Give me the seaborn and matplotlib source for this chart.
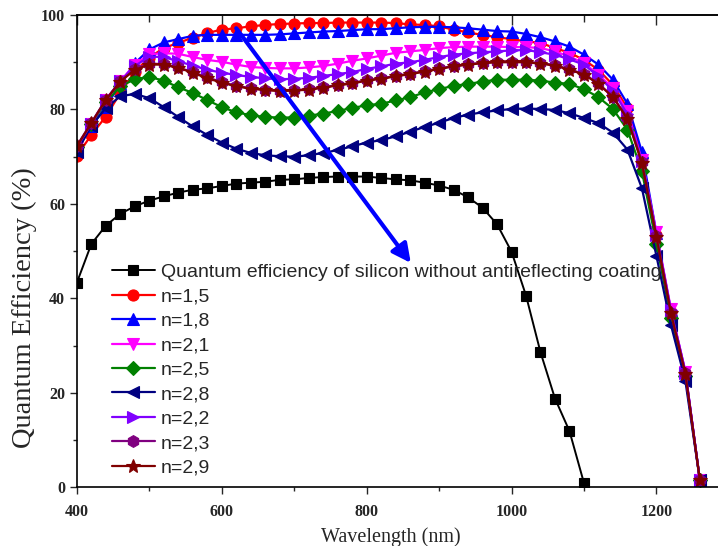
import numpy as np
import pandas as pd
import matplotlib
matplotlib.use("Agg")
import matplotlib.pyplot as plt
import seaborn as sns
from matplotlib.ticker import MultipleLocator

wl = list(range(400, 1261, 20))
wl_si = list(range(400, 1101, 20))

qe_si = [43.3, 51.5, 55.4, 57.9, 59.5, 60.7, 61.6, 62.4, 63.0, 63.3, 63.8, 64.3, 64.5, 64.7,
         65.1, 65.2, 65.5, 65.7, 65.8, 65.8, 65.8, 65.5, 65.2, 65.0, 64.5, 63.9, 63.0, 61.4,
         59.2, 55.7, 49.9, 40.6, 28.6, 18.8, 11.9, 0.9]

qe_15 = [70.2, 74.6, 78.5, 83.5, 88.0, 91.0, 93.0, 94.1, 95.2, 96.2, 96.9, 97.2, 97.6, 97.9,
         98.1, 98.2, 98.3, 98.3, 98.4, 98.4, 98.4, 98.4, 98.3, 98.0, 97.9, 97.6, 96.9, 96.3,
         95.8, 95.3, 94.9, 94.4, 94.1, 93.0, 92.0, 90.5, 88.4, 85.2, 80.3, 69.8, 53.5, 37.2,
         24.2, 1.5]
qe_18 = [71.5, 76.5, 80.5, 85.5, 89.8, 92.7, 94.2, 94.9, 95.6, 95.8, 95.8, 95.8, 95.8, 95.8,
         95.9, 96.1, 96.3, 96.5, 96.6, 96.8, 97.0, 97.0, 97.2, 97.4, 97.5, 97.5, 97.4, 97.2,
         96.9, 96.6, 96.5, 96.0, 95.3, 94.4, 93.3, 91.6, 89.5, 86.3, 81.2, 71.0, 53.8, 37.5,
         24.5, 1.5]
qe_21 = [72.0, 77.0, 82.0, 86.0, 89.5, 91.7, 91.9, 91.8, 91.1, 90.5, 90.1, 89.5, 89.0, 88.8,
         88.7, 88.7, 88.9, 89.2, 89.7, 90.3, 90.8, 91.4, 92.0, 92.3, 92.6, 93.0, 93.2, 93.3,
         93.3, 93.3, 93.2, 93.2, 93.0, 92.3, 91.2, 89.8, 87.4, 84.5, 79.6, 69.2, 54.0, 37.8,
         24.5, 1.5]
qe_25 = [72.0, 77.0, 81.5, 84.9, 86.4, 86.9, 86.1, 84.7, 83.5, 82.0, 80.5, 79.4, 78.8, 78.4,
         78.3, 78.3, 78.7, 79.1, 79.7, 80.3, 80.9, 81.2, 81.9, 82.6, 83.6, 84.3, 85.0, 85.4,
         85.9, 86.3, 86.3, 86.3, 86.1, 85.7, 85.4, 84.3, 82.6, 80.1, 75.7, 66.9, 51.6, 35.8,
         23.6, 1.5]
qe_28 = [71.0, 76.5, 80.3, 82.8, 83.3, 82.4, 80.5, 78.4, 76.4, 74.6, 73.0, 71.7, 70.8, 70.3,
         70.1, 70.0, 70.3, 70.8, 71.4, 72.2, 73.0, 73.5, 74.3, 75.3, 76.3, 77.2, 78.2, 78.9,
         79.4, 79.8, 80.1, 80.2, 80.1, 79.9, 79.2, 78.2, 77.1, 75.1, 71.5, 63.3, 49.0, 34.4,
         22.5, 1.5]
qe_22 = [72.0, 77.0, 82.0, 86.0, 89.2, 91.2, 91.1, 90.2, 89.3, 88.4, 87.8, 87.3, 86.9, 86.6,
         86.4, 86.5, 86.7, 87.1, 87.5, 87.9, 88.6, 89.1, 89.7, 90.0, 90.5, 91.1, 91.6, 91.9,
         92.1, 92.3, 92.5, 92.6, 92.1, 91.6, 90.6, 89.5, 87.0, 84.0, 79.0, 69.0, 53.5, 37.5,
         24.3, 1.5]
qe_23 = [72.3, 77.2, 82.1, 86.0, 88.5, 89.7, 89.6, 88.9, 87.9, 86.8, 85.8, 85.0, 84.5, 84.2,
         84.0, 84.1, 84.3, 84.7, 85.2, 85.6, 86.2, 86.6, 87.1, 87.6, 88.1, 88.7, 89.2, 89.6,
         89.9, 90.1, 90.1, 90.1, 89.8, 89.4, 88.5, 87.5, 85.5, 82.7, 78.2, 68.8, 53.2, 37.0,
         24.1, 1.5]
qe_29 = [72.2, 77.1, 82.0, 85.9, 88.4, 89.5, 89.5, 88.8, 87.8, 86.6, 85.7, 84.9, 84.4, 84.1,
         83.9, 84.0, 84.2, 84.6, 85.1, 85.5, 86.1, 86.5, 87.0, 87.5, 88.0, 88.6, 89.1, 89.5,
         89.8, 90.0, 90.0, 90.0, 89.7, 89.3, 88.4, 87.4, 85.4, 82.6, 78.0, 68.6, 53.0, 36.9,
         24.0, 1.5]

labels = ["Quantum efficiency of silicon without antireflecting coating",
          "n=1,5", "n=1,8", "n=2,1", "n=2,5", "n=2,8", "n=2,2", "n=2,3", "n=2,9"]
series = [qe_si, qe_15, qe_18, qe_21, qe_25, qe_28, qe_22, qe_23, qe_29]
colors = ["#000000", "#FF0000", "#0000FF", "#FF00FF", "#008000", "#000080",
          "#8000FF", "#800080", "#800000"]
markers = ["s", "o", "^", "v", "D", "<", ">", "h", "*"]
msizes = [6.5, 8, 8.5, 8.5, 7, 8.5, 8.5, 8.5, 10]

x_ticks = [400, 600, 800, 1000, 1200]
y_ticks = [0, 20, 40, 60, 80, 100]

sns.set_style("ticks")
plt.rcParams["font.family"] = ["Liberation Serif", "DejaVu Serif"]

fig = plt.figure(figsize=(7.18, 5.46), dpi=100)
ax = fig.add_axes([0.107, 0.1075, 0.893, 0.865])

for lab, vals, c, m, ms in zip(labels, series, colors, markers, msizes):
    xs = wl_si if len(vals) == len(wl_si) else wl
    df = pd.DataFrame({"wl": xs, "qe": vals})
    lw = 1.4 if c == "#000000" else 1.6
    sns.lineplot(data=df, x="wl", y="qe", ax=ax, color=c, marker=m, markersize=ms,
                 markeredgecolor=c, markeredgewidth=0.8, linewidth=lw, label=lab,
                 legend=False)

ax.set_xlim(400, 1285)
ax.set_ylim(0, 100)
ax.set_xticks(x_ticks)
ax.set_yticks(y_ticks)
ax.xaxis.set_minor_locator(MultipleLocator(100))
ax.yaxis.set_minor_locator(MultipleLocator(10))
ax.tick_params(axis="both", which="major", direction="out", length=5, width=1,
               labelsize=11.5)
ax.tick_params(axis="x", which="major", pad=7)
ax.tick_params(axis="both", which="minor", direction="out", length=3, width=1)
for t in ax.get_xticklabels() + ax.get_yticklabels():
    t.set_fontweight("bold")
for sp in ["left", "bottom", "top"]:
    ax.spines[sp].set_linewidth(1.2)
    ax.spines[sp].set_color("black")
ax.spines["right"].set_visible(False)

sec = ax.secondary_xaxis("top")
sec.set_xticks(x_ticks)
sec.xaxis.set_minor_locator(MultipleLocator(100))
sec.tick_params(axis="x", which="major", direction="in", length=7, width=1, labeltop=False)
sec.tick_params(axis="x", which="minor", direction="in", length=5, width=1)
sec.spines["top"].set_linewidth(1.2)

ax.set_xlabel("Wavelength (nm)", fontsize=14.5)
ax.xaxis.set_label_coords(0.49, -0.085)
ax.set_ylabel("Quantum Efficiency (%)", fontsize=20.5)
ax.yaxis.set_label_coords(-0.062, 0.38)

ax.annotate("", xy=(861, 47.5), xytext=(620, 97.2),
            arrowprops=dict(arrowstyle="-|>", color="#0000FF", lw=3,
                            mutation_scale=28, shrinkA=0, shrinkB=0))

handles, labs = ax.get_legend_handles_labels()
leg = ax.legend(handles, labs, loc="upper left", bbox_to_anchor=(112 / 718, 1 - 263.5 / 546),
                bbox_transform=fig.transFigure, frameon=False, borderpad=0,
                borderaxespad=0, labelspacing=0.35, handlelength=2.2, handletextpad=0.3,
                prop={"family": ["Liberation Sans", "DejaVu Sans"], "size": 14})

fig.savefig("out.png", dpi=100)
